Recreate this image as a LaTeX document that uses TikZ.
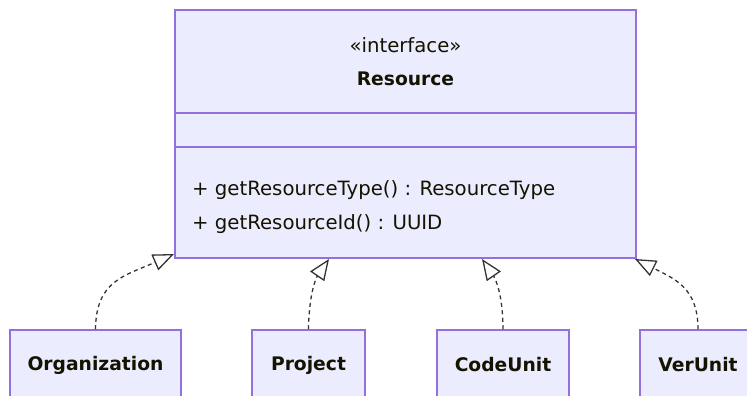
\documentclass[tikz,border=0pt]{standalone}
\usepackage{fontspec}
\setmainfont{DejaVu Sans}
\usetikzlibrary{arrows.meta}
\definecolor{boxfill}{HTML}{ECECFF}
\definecolor{boxline}{HTML}{9370DB}
\definecolor{linecol}{HTML}{333333}
\definecolor{txt}{HTML}{131300}
\tikzset{
  classbox/.style={draw=boxline, fill=boxfill, line width=1.5pt, rectangle, inner sep=0pt},
  lbl/.style={text=txt, font=\fontsize{19.7}{23}\selectfont, inner sep=0pt},
  blbl/.style={lbl, font=\fontsize{18.7}{22}\selectfont\bfseries},
  realize/.style={draw=linecol, line width=1.3pt, dash pattern=on 4pt off 3.5pt,
    -{Triangle[open, length=21pt, width=17pt, fill=white, line width=1.3pt]}}
}
\begin{document}
\begin{tikzpicture}[x=1pt, y=1pt]
\useasboundingbox (0,0) rectangle (747,396);
\clip (0,0) rectangle (747,396);
% interface box
\node[classbox, minimum width=461pt, minimum height=248pt] (res) at (405.5,262) {};
\draw[boxline, line width=1.5pt] (res.west |- 0,283) -- (res.east |- 0,283);
\draw[boxline, line width=1.5pt] (res.west |- 0,249) -- (res.east |- 0,249);
\node[lbl] (stereo) at (405.5,351) {«interface»};
\node[blbl] (resname) at (405.5,317) {Resource};
\node[lbl, anchor=west] (m1) at (192,206) {+ getResourceType() : ResourceType};
\node[lbl, anchor=west] (m2) at (192,172) {+ getResourceId() : UUID};
% implementing classes
\node[classbox, blbl, minimum width=171pt, minimum height=70pt] (org) at (95.5,31) {Organization};
\node[classbox, blbl, minimum width=113pt, minimum height=70pt] (proj) at (308.5,31) {Project};
\node[classbox, blbl, minimum width=132pt, minimum height=70pt] (code) at (503,31) {CodeUnit};
\node[classbox, blbl, minimum width=116pt, minimum height=70pt] (ver) at (698,31) {VerUnit};
% arrow tips
\coordinate (t1) at (174,142);
\coordinate (t2) at (329,137);
\coordinate (t3) at (482,137);
\coordinate (t4) at (635,137);
\draw[realize] (org.north) .. controls (96,115) and (124,120) .. (t1);
\draw[realize] (proj.north) .. controls (309,102) and (316,118) .. (t2);
\draw[realize] (code.north) .. controls (503,102) and (495,118) .. (t3);
\draw[realize] (ver.north) .. controls (698,108) and (675,117) .. (t4);
\end{tikzpicture}
\end{document}
